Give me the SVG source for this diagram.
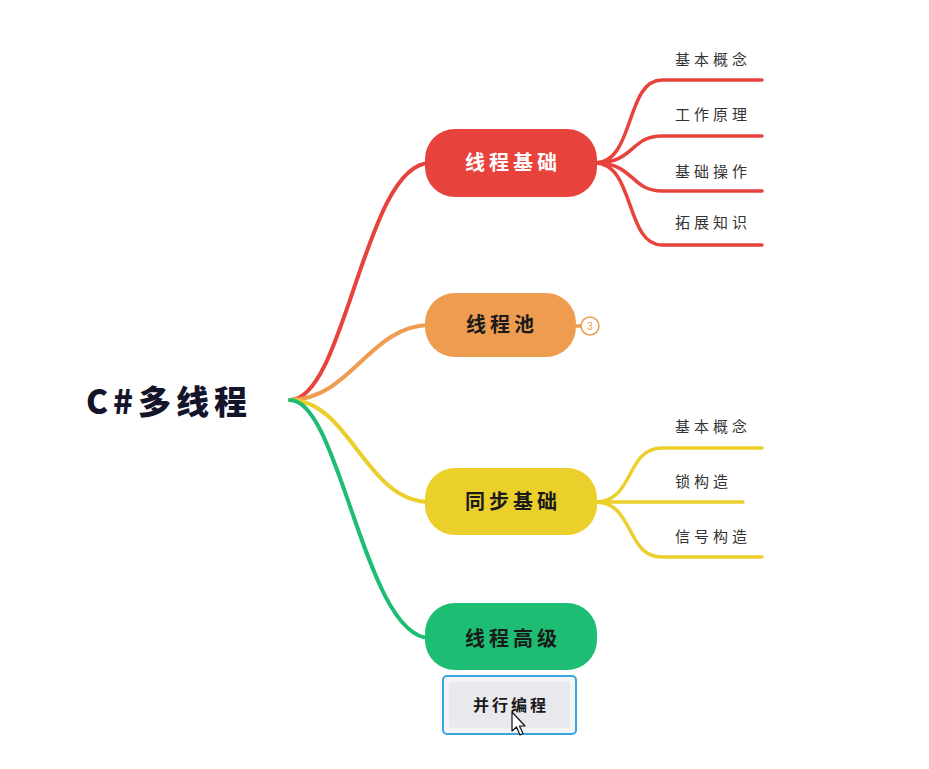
<svg xmlns="http://www.w3.org/2000/svg" width="929" height="769" viewBox="0 0 929 769">
<style>
.c{fill:none;stroke-width:4;stroke-linecap:round}
.b{fill:none;stroke-width:3.5;stroke-linecap:round}
.red{stroke:#e8423c}.org{stroke:#ee9c50}.yel{stroke:#ebcf2a}.grn{stroke:#1dbd73}
.t{font-family:"Noto Sans CJK SC","Noto Sans",sans-serif;font-weight:700;font-size:20px;letter-spacing:4px;text-anchor:middle}
.leaf{font-family:"Noto Sans CJK SC","Noto Sans",sans-serif;font-size:15px;letter-spacing:4px;fill:#333}
</style>
<rect width="929" height="769" fill="#ffffff"/>
<g id="connectors">
<path class="c red" d="M290,400 C345,400 365,163 430,163"/>
<path class="c org" d="M290,400 C350,400 370,325 430,325"/>
<path class="c yel" d="M290,400 C350,400 365,502 430,502"/>
<path class="c grn" d="M290,400 C340,400 365,638 430,638"/>
<path class="b red" d="M595,163 C635,163 625,80 662,80 L762,80"/>
<path class="b red" d="M595,163 C635,163 630,136 662,136 L762,136"/>
<path class="b red" d="M595,163 C635,163 630,191 662,191 L762,191"/>
<path class="b red" d="M595,163 C635,163 625,245 662,245 L762,245"/>
<path class="b yel" d="M595,502 C635,502 625,448 662,448 L762,448"/>
<path class="b yel" d="M595,502 L743,502"/>
<path class="b yel" d="M595,502 C635,502 625,557 662,557 L762,557"/>
<path class="b org" d="M575,326 L581,326"/>
</g>
<g id="root">
<text x="86" y="414" font-family="'Noto Sans CJK SC','Noto Sans',sans-serif" font-weight="900" font-size="33" letter-spacing="5" fill="#14142b">C#多线程</text>
</g>
<g id="n1">
<rect x="425" y="129" width="172" height="68" rx="30" fill="#e8423c"/>
<text class="t" x="513" y="170" fill="#ffffff">线程基础</text>
</g>
<g id="n1a"><text class="leaf" x="675" y="65">基本概念</text></g>
<g id="n1b"><text class="leaf" x="675" y="120">工作原理</text></g>
<g id="n1c"><text class="leaf" x="675" y="177">基础操作</text></g>
<g id="n1d"><text class="leaf" x="675" y="228">拓展知识</text></g>
<g id="n2">
<rect x="425" y="293" width="151" height="64" rx="30" fill="#ee9c50"/>
<text class="t" x="502" y="332" fill="#1a1a1a">线程池</text>
<circle cx="590" cy="326" r="9" fill="#ffffff" stroke="#ee9c50" stroke-width="1.5"/>
<text x="590" y="330" font-family="'Liberation Sans',sans-serif" font-size="10" fill="#ee9c50" text-anchor="middle">3</text>
</g>
<g id="n3">
<rect x="425" y="468" width="172" height="67" rx="30" fill="#ebcf2a"/>
<text class="t" x="513" y="509" fill="#1a1a1a">同步基础</text>
</g>
<g id="n3a"><text class="leaf" x="675" y="432">基本概念</text></g>
<g id="n3b"><text class="leaf" x="675" y="487">锁构造</text></g>
<g id="n3c"><text class="leaf" x="675" y="542">信号构造</text></g>
<g id="n4">
<rect x="425" y="603" width="172" height="67" rx="30" fill="#1dbd73"/>
<text class="t" x="513" y="646" fill="#1a1a1a">线程高级</text>
</g>
<g id="n4a">
<rect x="443" y="676" width="133" height="58" rx="4" fill="#f4f4f6" stroke="#3aa6e0" stroke-width="2"/>
<rect x="449" y="682" width="121" height="46" rx="3" fill="#e9e8ed"/>
<text x="511" y="711" font-family="'Noto Sans CJK SC','Noto Sans',sans-serif" font-weight="700" font-size="16" letter-spacing="3" text-anchor="middle" fill="#1a1a1a">并行编程</text>
</g>
<g id="cursor">
<path d="M512,712 L512,731 L516.5,727 L520,735 L523,733.5 L519.5,726 L525,726 Z" fill="#ffffff" stroke="#111" stroke-width="1.2" stroke-linejoin="round"/>
</g>
</svg>
